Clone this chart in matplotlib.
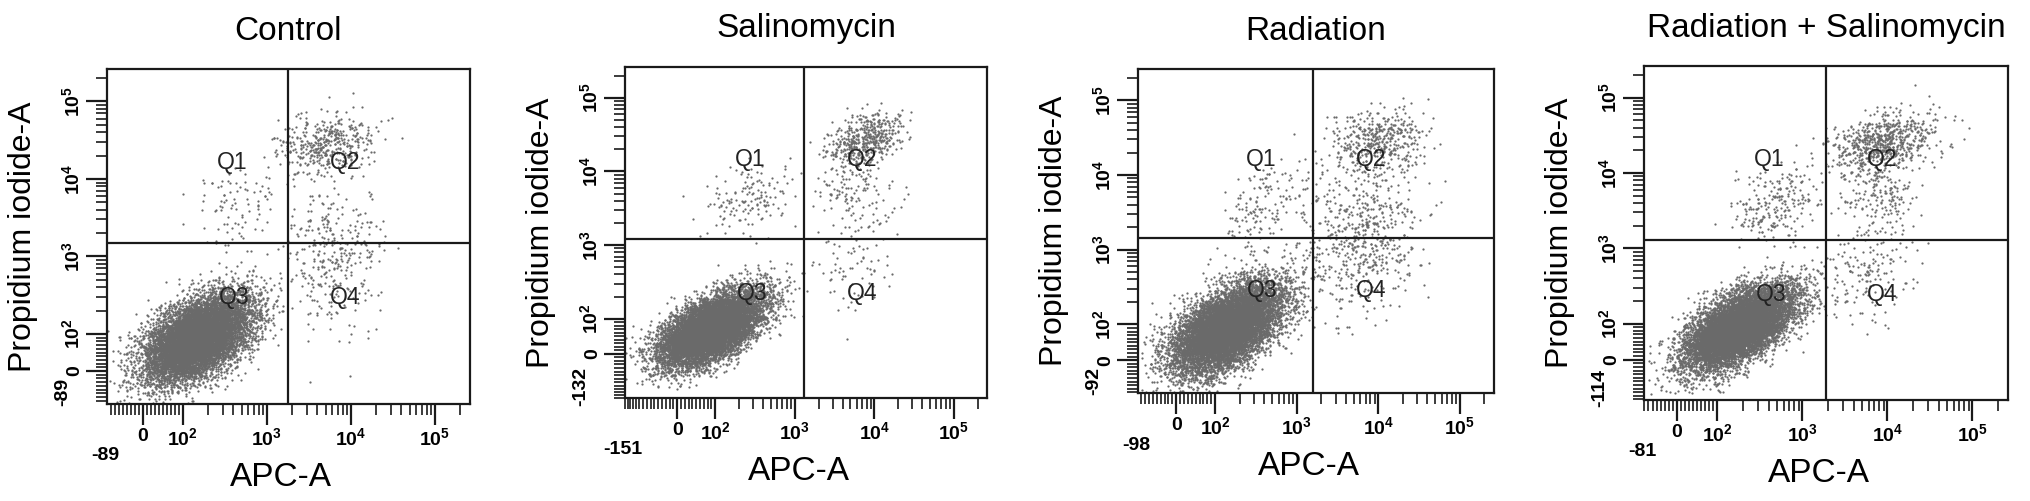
import numpy as np
import matplotlib
matplotlib.use("Agg")
import matplotlib.pyplot as plt
from matplotlib import font_manager
from matplotlib.scale import SymmetricalLogTransform

plt.rcParams['font.family'] = ['Liberation Sans', 'DejaVu Sans']
plt.rcParams['mathtext.default'] = 'regular'

try:
    font_manager.findfont('Liberation Sans Narrow', fallback_to_default=False)
    tick_font = 'Liberation Sans Narrow'
except ValueError:
    tick_font = 'Liberation Sans'

# panel titles and axis ranges (lower limits as printed on each axis)
titles = ["Control", "Salinomycin", "Radiation", "Radiation + Salinomycin"]
x_low = [-89, -151, -98, -81]
y_low = [-89, -132, -92, -114]
axis_top = 262144

# quadrant gates (APC-A, PI-A)
x_gate = [1800, 1300, 1600, 1900]
y_gate = [1500, 1200, 1450, 1300]

# populations estimated from each panel:
# (events, APC centre, PI centre, APC spread [decades], PI spread [decades], correlation)
control_pops = [
    (9500, 150, 90, 0.31, 0.28, 0.50),
    (420, 5000, 28000, 0.28, 0.22, 0.20),
    (330, 6500, 1000, 0.28, 0.45, 0.00),
    (90, 400, 5000, 0.25, 0.30, 0.20),
]
salinomycin_pops = [
    (10000, 90, 70, 0.32, 0.25, 0.60),
    (450, 8000, 28000, 0.22, 0.17, 0.30),
    (150, 6000, 4000, 0.30, 0.35, 0.00),
    (140, 280, 4500, 0.25, 0.25, 0.30),
    (60, 5000, 400, 0.30, 0.25, 0.00),
]
radiation_pops = [
    (9500, 140, 90, 0.33, 0.30, 0.55),
    (400, 10000, 30000, 0.30, 0.22, 0.20),
    (600, 6000, 1500, 0.35, 0.50, 0.20),
    (150, 400, 4000, 0.28, 0.30, 0.30),
]
combo_pops = [
    (9500, 180, 90, 0.32, 0.27, 0.60),
    (650, 9000, 25000, 0.30, 0.20, 0.30),
    (200, 8000, 5000, 0.25, 0.30, 0.00),
    (220, 450, 4000, 0.25, 0.25, 0.30),
    (150, 6000, 500, 0.30, 0.30, 0.00),
]
panel_pops = [control_pops, salinomycin_pops, radiation_pops, combo_pops]

# axes boxes in pixels (left, right, top, bottom) on a 2031x501 canvas
boxes = [(107, 470, 69, 404), (625, 987, 67, 398),
         (1138, 1494, 69, 393), (1644, 2008, 66, 400)]

LINTHRESH = 100
LINSCALE = 0.43
W, H = 2031, 501

tr = SymmetricalLogTransform(10, LINTHRESH, LINSCALE)
inv = tr.inverted()


def cloud(pops, seed, xlo, ylo):
    rng = np.random.default_rng(seed)
    xs, ys = [], []
    for n, cx, cy, sx, sy, rho in pops:
        mx, my = tr.transform_non_affine(np.array([cx, cy], float)) / LINTHRESH
        cov = [[sx * sx, rho * sx * sy], [rho * sx * sy, sy * sy]]
        p = rng.multivariate_normal([mx, my], cov, n) * LINTHRESH
        xs.append(inv.transform_non_affine(p[:, 0]))
        ys.append(inv.transform_non_affine(p[:, 1]))
    x = np.concatenate(xs)
    y = np.concatenate(ys)
    keep = (x > xlo) & (x < axis_top) & (y > ylo) & (y < axis_top)
    return x[keep], y[keep]


def minor_ticks(lo):
    lin = list(range(int(np.ceil(lo / 10.0)) * 10, 100, 10))
    logs = [m * 10 ** e for e in (2, 3, 4) for m in range(2, 10)] + [200000]
    return [t for t in lin if t != 0] + logs


major = [0, 100, 1000, 10000, 100000]
major_labels = ['0', '$10^{2}$', '$10^{3}$', '$10^{4}$', '$10^{5}$']
tick_kw = dict(family=[tick_font, 'DejaVu Sans'], weight='bold', size=14)

fig = plt.figure(figsize=(W / 100, H / 100), dpi=100)

for i in range(4):
    l, r, t, b = boxes[i]
    ax = fig.add_axes([l / W, 1 - b / H, (r - l) / W, (b - t) / H])
    ax.set_xscale('symlog', linthresh=LINTHRESH, linscale=LINSCALE)
    ax.set_yscale('symlog', linthresh=LINTHRESH, linscale=LINSCALE)

    x, y = cloud(panel_pops[i], 11 + i, x_low[i], y_low[i])
    ax.scatter(x, y, s=2.6, c='#6a6a6a', linewidths=0, marker='o')

    ax.set_xlim(x_low[i], axis_top)
    ax.set_ylim(y_low[i], axis_top)

    ax.axvline(x_gate[i], color='#1a1a1a', lw=1.6)
    ax.axhline(y_gate[i], color='#1a1a1a', lw=1.6)

    ax.set_xticks(major)
    ax.set_xticklabels(major_labels, **tick_kw)
    ax.set_yticks(major)
    ax.set_yticklabels(major_labels, rotation=90, va='center', **tick_kw)
    ax.set_xticks(minor_ticks(x_low[i]), minor=True)
    ax.set_yticks(minor_ticks(y_low[i]), minor=True)
    ax.tick_params(which='major', length=15, width=1.6, direction='out',
                   pad=2, color='#1a1a1a')
    ax.tick_params(which='minor', length=8, width=1.2, direction='out',
                   color='#1a1a1a')
    for s in ax.spines.values():
        s.set_linewidth(1.6)
        s.set_color('#1a1a1a')

    # lower-limit labels sit apart from the others
    ax.annotate(str(x_low[i]), xy=(0, 0), xycoords='axes fraction',
                xytext=(-2, -52), textcoords='offset pixels',
                ha='center', va='center', **tick_kw)
    ax.annotate(str(y_low[i]), xy=(0, 0), xycoords='axes fraction',
                xytext=(-44, 12), textcoords='offset pixels',
                ha='center', va='center', rotation=90, **tick_kw)

    # quadrant names
    for qx, qy, q in [(0.345, 0.72, 'Q1'), (0.655, 0.72, 'Q2'),
                      (0.35, 0.317, 'Q3'), (0.655, 0.317, 'Q4')]:
        ax.text(qx, qy, q, transform=ax.transAxes, ha='center', va='center',
                fontsize=16.5, color='#222222')

    ax.set_xlabel('APC-A', fontsize=24)
    ax.xaxis.set_label_coords(0.48, -58 / (b - t))
    ax.set_ylabel('Propidium iodide-A', fontsize=23)
    ax.yaxis.set_label_coords(-69 / (r - l), 0.5)
    ax.text(0.5, 1 + 38 / (b - t), titles[i], transform=ax.transAxes,
            ha='center', va='center', fontsize=24)

fig.savefig('out.png', dpi=100)
